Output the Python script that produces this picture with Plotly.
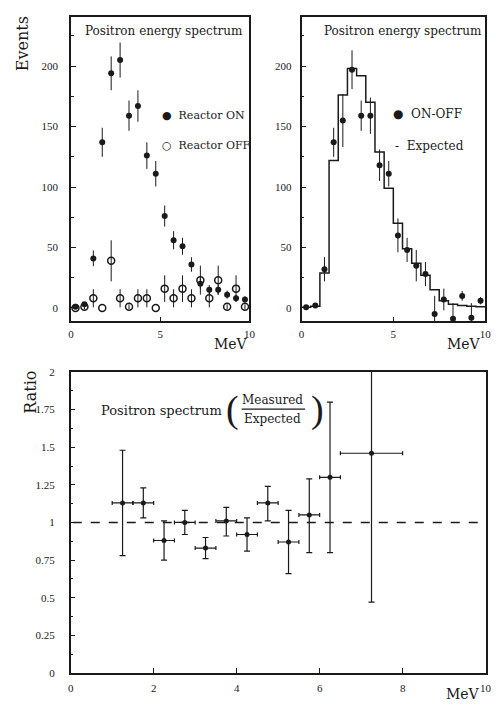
import plotly.graph_objects as go

# ---------------- data ----------------
bin_centers = [0.25, 0.75, 1.25, 1.75, 2.25, 2.75, 3.25, 3.75, 4.25, 4.75,
               5.25, 5.75, 6.25, 6.75, 7.25, 7.75, 8.25, 8.75, 9.25, 9.75]
bin_edges = [0.0, 0.5, 1.0, 1.5, 2.0, 2.5, 3.0, 3.5, 4.0, 4.5, 5.0,
             5.5, 6.0, 6.5, 7.0, 7.5, 8.0, 8.5, 9.0, 9.5, 10.0]

reactor_on = [1, 3, 41, 137, 194, 205, 159, 167, 126, 111,
              76, 56, 51, 36, 20, 15, 15, 11, 8, 7]
reactor_on_err = [1, 2, 6.5, 12, 14, 14.5, 12.5, 13, 11, 10.5,
                  8.7, 7.5, 7, 6, 4.5, 4, 4, 3.3, 2.8, 2.6]

reactor_off = [0, 1, 8, 0, 39, 8, 1, 8, 8, 0,
               16, 8, 16, 8, 23, 8, 23, 1, 16, 1]
reactor_off_err = [0, 2, 7.5, 0, 17, 7.5, 2, 7.5, 7.5, 0,
                   11, 7.5, 11, 7.5, 12, 7.5, 12, 2, 11, 2]

on_minus_off = [0.5, 2, 32, 137, 155, 197, 159, 159, 118, 111,
                60, 48, 35, 28, -5, 7, -9, 10, -8, 6]
on_minus_off_err = [1, 2, 10, 12, 22, 16, 12.5, 15, 13, 10.5,
                    14, 10, 13, 10, 15, 9, 13, 4, 12, 3]

expected = [0.5, 1.5, 29, 122, 176, 198, 192, 170, 129, 99,
            70, 49, 37, 27, 15, 6, 3, 2, 1.5, 1]

ratio_energy = [1.25, 1.75, 2.25, 2.75, 3.25, 3.75, 4.25, 4.75, 5.25, 5.75, 6.25, 7.25]
ratio_energy_halfwidth = [0.25, 0.25, 0.25, 0.25, 0.25, 0.25, 0.25, 0.25, 0.25, 0.25, 0.25, 0.75]
ratio = [1.13, 1.13, 0.88, 1.00, 0.83, 1.01, 0.92, 1.13, 0.87, 1.05, 1.30, 1.46]
ratio_err_up = [0.35, 0.10, 0.13, 0.08, 0.07, 0.09, 0.11, 0.11, 0.21, 0.24, 0.50, 1.00]
ratio_err_down = [0.35, 0.10, 0.13, 0.08, 0.07, 0.10, 0.11, 0.12, 0.21, 0.25, 0.50, 0.99]
ratio_reference = 1.0

events_ticks = [0, 50, 100, 150, 200]
mev_ticks_top = [0, 5, 10]
mev_ticks_bottom = [0, 2, 4, 6, 8, 10]
ratio_ticks = [0, 0.25, 0.5, 0.75, 1, 1.25, 1.5, 1.75, 2]
ratio_tick_labels = ["0", "0.25", "0.5", "0.75", "1", "1.25", "1.5", "1.75", "2"]

# ---------------- figure ----------------
INK = "#1a1a1a"
SERIF = "DejaVu Serif"
TICKFONT = dict(family="Liberation Serif", size=11, color=INK)

fig = go.Figure()

# top-left: reactor ON / OFF
fig.add_trace(go.Scatter(
    x=bin_centers, y=reactor_off, mode="markers", xaxis="x", yaxis="y",
    marker=dict(symbol="circle-open", size=7, color=INK, line=dict(width=1.5, color=INK)),
    error_y=dict(type="data", array=reactor_off_err, width=0, thickness=1, color=INK),
    showlegend=False, name="Reactor OFF"))
fig.add_trace(go.Scatter(
    x=bin_centers, y=reactor_on, mode="markers", xaxis="x", yaxis="y",
    marker=dict(symbol="circle", size=6, color=INK),
    error_y=dict(type="data", array=reactor_on_err, width=0, thickness=1, color=INK),
    showlegend=False, name="Reactor ON"))

# top-right: ON-OFF and expected
step_y = expected + [expected[-1]]
fig.add_trace(go.Scatter(
    x=bin_edges, y=step_y, mode="lines", line_shape="hv", xaxis="x2", yaxis="y2",
    line=dict(color=INK, width=1.5), showlegend=False, name="Expected"))
fig.add_trace(go.Scatter(
    x=bin_centers, y=on_minus_off, mode="markers", xaxis="x2", yaxis="y2",
    marker=dict(symbol="circle", size=6, color=INK),
    error_y=dict(type="data", array=on_minus_off_err, width=0, thickness=1, color=INK),
    showlegend=False, name="ON-OFF"))

# bottom: ratio
fig.add_trace(go.Scatter(
    x=ratio_energy, y=ratio, mode="markers", xaxis="x3", yaxis="y3",
    marker=dict(symbol="circle", size=5, color=INK),
    error_x=dict(type="data", array=ratio_energy_halfwidth, width=2, thickness=1.2, color=INK),
    error_y=dict(type="data", array=ratio_err_up, arrayminus=ratio_err_down,
                 width=3, thickness=1.2, color=INK),
    showlegend=False, name="Ratio"))

fig.add_shape(type="line", xref="x3 domain", yref="y3", x0=0.005, x1=0.99,
              y0=ratio_reference, y1=ratio_reference,
              line=dict(color=INK, width=1.5, dash="dash"))

axis_common = dict(showline=True, mirror=True, linecolor=INK, linewidth=1.5,
                   ticks="inside", ticklen=5, tickcolor=INK, showgrid=False,
                   zeroline=False, tickfont=TICKFONT)

TOP_Y = [0.5496, 0.985]
BOT_Y = [0.0473, 0.4771]

fig.update_layout(
    width=496, height=712,
    margin=dict(l=0, r=0, t=0, b=0),
    paper_bgcolor="white", plot_bgcolor="white",
    xaxis=dict(domain=[0.1397, 0.506], range=[0, 10], tickvals=mev_ticks_top,
               anchor="y", ticklabelstandoff=2, **axis_common),
    yaxis=dict(domain=TOP_Y, range=[-11, 241], tickvals=events_ticks,
               anchor="x", ticklabelstandoff=9,
               minor=dict(dtick=25, ticks="inside", ticklen=3, tickcolor=INK),
               **axis_common),
    xaxis2=dict(domain=[0.613, 0.99], range=[0, 10], tickvals=mev_ticks_top,
                anchor="y2", ticklabelstandoff=2, **axis_common),
    yaxis2=dict(domain=TOP_Y, range=[-11, 241], tickvals=events_ticks,
                anchor="x2", ticklabelstandoff=6,
                minor=dict(dtick=25, ticks="inside", ticklen=3, tickcolor=INK),
                **axis_common),
    xaxis3=dict(domain=[0.139, 0.991], range=[0, 10], tickvals=mev_ticks_bottom,
                anchor="y3", ticklabelstandoff=4, **axis_common),
    yaxis3=dict(domain=BOT_Y, range=[0, 2], tickvals=ratio_ticks,
                ticktext=ratio_tick_labels, anchor="x3", ticklabelstandoff=12,
                minor=dict(dtick=0.125, ticks="inside", ticklen=3, tickcolor=INK),
                **axis_common),
)


def note(text, xref, yref, x, y, size, xanchor="center", family=SERIF, **kw):
    return dict(text=text, xref=xref, yref=yref, x=x, y=y, xanchor=xanchor,
                yanchor="middle", showarrow=False,
                font=dict(family=family, size=size, color=INK), **kw)


annotations = [
    # panel titles
    note("Positron energy spectrum", "x domain", "y domain", 0.52, 0.954, 12),
    note("Positron energy spectrum", "x2 domain", "y2 domain", 0.55, 0.954, 12),
    # legend-like labels
    note("●  Reactor ON", "x domain", "y domain", 0.5, 0.676, 11, xanchor="left"),
    note("○  Reactor OFF", "x domain", "y domain", 0.5, 0.577, 11, xanchor="left"),
    note("●  ON-OFF", "x2 domain", "y2 domain", 0.487, 0.680, 12, xanchor="left"),
    note("-  Expected", "x2 domain", "y2 domain", 0.5, 0.574, 12, xanchor="left"),
    # axis titles
    note("Events", "paper", "paper", 0.04, 0.946, 16, textangle=-90),
    note("Ratio", "paper", "paper", 0.056, 0.448, 16, textangle=-90),
    note("MeV", "paper", "paper", 0.468, 0.517, 14),
    note("MeV", "paper", "paper", 0.946, 0.517, 14),
    note("MeV", "paper", "paper", 0.944, 0.0169, 14),
    # ratio panel label with fraction
    note("Positron spectrum", "x3 domain", "y3 domain", 0.0686, 0.871, 13, xanchor="left"),
    note("(", "x3 domain", "y3 domain", 0.39, 0.874, 38, family="Liberation Serif"),
    note(")", "x3 domain", "y3 domain", 0.596, 0.874, 38, family="Liberation Serif"),
    note("Measured", "x3 domain", "y3 domain", 0.487, 0.907, 12),
    note("Expected", "x3 domain", "y3 domain", 0.487, 0.843, 12),
]
fig.update_layout(annotations=annotations)

fig.add_shape(type="line", xref="x3 domain", yref="y3 domain",
              x0=0.412, x1=0.565, y0=0.877, y1=0.877,
              line=dict(color=INK, width=1.2))

fig.write_html("out.html")
